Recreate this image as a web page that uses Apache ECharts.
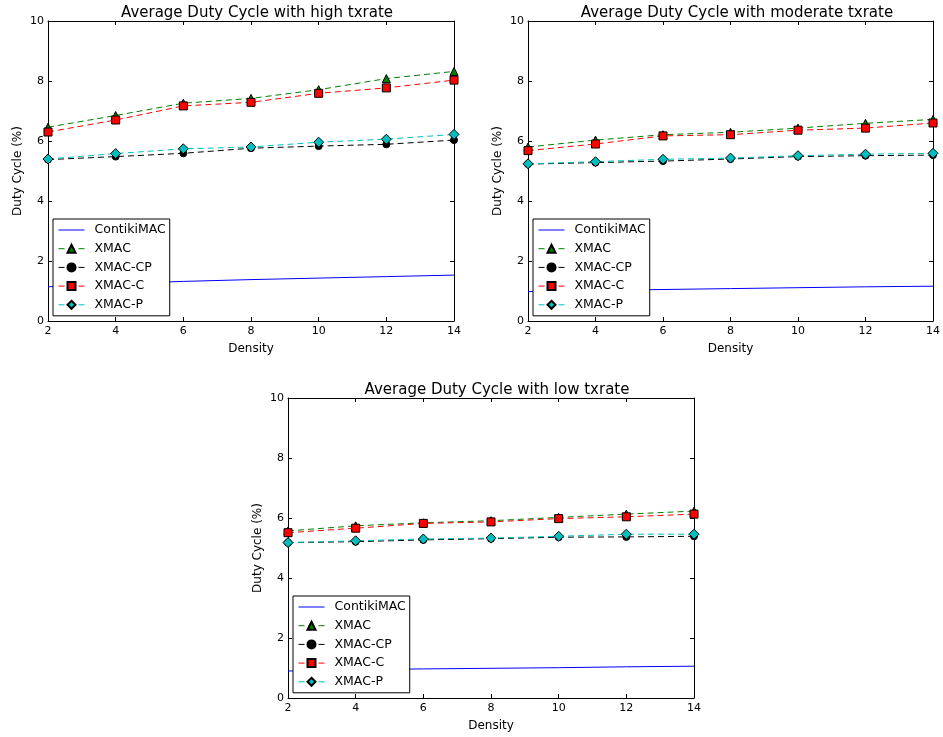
<!DOCTYPE html>
<html>
<head>
<meta charset="utf-8">
<script src="https://cdn.jsdelivr.net/npm/echarts@6/dist/echarts.min.js"></script>
<style>
html,body{margin:0;padding:0;background:#fff;}
#chart{width:943px;height:737px;}
</style>
</head>
<body>
<div id="chart"></div>
<script>
// ---- data ----
var density = [2, 4, 6, 8, 10, 12, 14];
var seriesNames = ['ContikiMAC', 'XMAC', 'XMAC-CP', 'XMAC-C', 'XMAC-P'];
var panelTitles = ['Average Duty Cycle with high txrate', 'Average Duty Cycle with moderate txrate', 'Average Duty Cycle with low txrate'];
var xTicks = [2, 4, 6, 8, 10, 12, 14];
var yTicks = [0, 2, 4, 6, 8, 10];

var highContiki = [1.14, 1.24, 1.32, 1.38, 1.43, 1.48, 1.53];
var highXmac    = [6.46, 6.85, 7.26, 7.42, 7.71, 8.08, 8.32];
var highXmacCP  = [5.38, 5.48, 5.59, 5.76, 5.83, 5.89, 6.03];
var highXmacC   = [6.30, 6.70, 7.17, 7.29, 7.59, 7.77, 8.03];
var highXmacP   = [5.40, 5.58, 5.74, 5.80, 5.96, 6.06, 6.22];

var modContiki = [0.98, 1.02, 1.05, 1.08, 1.11, 1.14, 1.16];
var modXmac    = [5.80, 6.03, 6.21, 6.29, 6.43, 6.59, 6.72];
var modXmacCP  = [5.23, 5.28, 5.33, 5.40, 5.48, 5.51, 5.53];
var modXmacC   = [5.68, 5.90, 6.17, 6.21, 6.36, 6.43, 6.60];
var modXmacP   = [5.24, 5.31, 5.39, 5.43, 5.51, 5.56, 5.59];

var lowContiki = [0.90, 0.94, 0.97, 0.99, 1.01, 1.04, 1.06];
var lowXmac    = [5.57, 5.74, 5.84, 5.91, 6.02, 6.13, 6.23];
var lowXmacCP  = [5.18, 5.21, 5.27, 5.31, 5.36, 5.37, 5.39];
var lowXmacC   = [5.51, 5.66, 5.82, 5.87, 5.98, 6.04, 6.13];
var lowXmacP   = [5.18, 5.24, 5.30, 5.33, 5.39, 5.46, 5.46];

var panels = [
  [highContiki, highXmac, highXmacCP, highXmacC, highXmacP],
  [modContiki, modXmac, modXmacCP, modXmacC, modXmacP],
  [lowContiki, lowXmac, lowXmacCP, lowXmacC, lowXmacP]
];

// ---- layout / style ----
var grids = [
  {left: 48, top: 21, width: 406, height: 300},
  {left: 528, top: 21, width: 406, height: 300},
  {left: 288, top: 398, width: 406, height: 300}
];
var FONT = 'DejaVu Sans';
var styles = [
  {color: '#0000ff', symbol: 'none', dash: 'solid', size: 0},
  {color: '#008000', symbol: 'triangle', dash: [6, 4], size: 8},
  {color: '#000000', symbol: 'circle', dash: [6, 4], size: 7},
  {color: '#ff0000', symbol: 'rect', dash: [6, 4], size: 8},
  {color: '#00bfbf', symbol: 'diamond', dash: [6, 4], size: 10}
];

function pairs(ys) {
  return density.map(function (x, i) { return [x, ys[i]]; });
}

var option = {
  backgroundColor: '#fff',
  animation: false,
  title: [], grid: [], xAxis: [], yAxis: [], legend: [], series: []
};

grids.forEach(function (g, p) {
  var suffix = '\u200b'.repeat(p);
  option.grid.push({left: g.left, top: g.top, width: g.width, height: g.height, containLabel: false});
  option.title.push({
    text: panelTitles[p], left: g.left + g.width / 2 + 1, top: g.top - 20, textAlign: 'center',
    textStyle: {fontFamily: FONT, fontSize: 15, fontWeight: 'normal', color: '#000'}
  });
  var axisLine = {show: true, onZero: false, lineStyle: {color: '#000', width: 1}};
  var tick = {show: true, inside: true, length: 4, lineStyle: {color: '#000'}};
  option.xAxis.push({
    type: 'value', gridIndex: p, position: 'bottom', min: xTicks[0], max: xTicks[xTicks.length - 1], interval: 2,
    name: 'Density', nameLocation: 'middle', nameGap: 22,
    nameTextStyle: {fontFamily: FONT, fontSize: 12, color: '#000'},
    axisLine: axisLine, axisTick: tick, splitLine: {show: false},
    axisLabel: {fontFamily: FONT, fontSize: 11, color: '#000', margin: 5}
  });
  option.xAxis.push({
    type: 'value', gridIndex: p, position: 'top', min: xTicks[0], max: xTicks[xTicks.length - 1], interval: 2,
    axisLine: axisLine, axisTick: tick, splitLine: {show: false}, axisLabel: {show: false}
  });
  option.yAxis.push({
    type: 'value', gridIndex: p, position: 'left', min: yTicks[0], max: yTicks[yTicks.length - 1], interval: 2,
    name: 'Duty Cycle (%)', nameLocation: 'middle', nameGap: 24,
    nameTextStyle: {fontFamily: FONT, fontSize: 12, color: '#000'},
    axisLine: axisLine, axisTick: tick, splitLine: {show: false},
    axisLabel: {fontFamily: FONT, fontSize: 11, color: '#000', margin: 4}
  });
  option.yAxis.push({
    type: 'value', gridIndex: p, position: 'right', min: yTicks[0], max: yTicks[yTicks.length - 1], interval: 2,
    axisLine: axisLine, axisTick: tick, splitLine: {show: false}, axisLabel: {show: false}
  });
  option.legend.push({
    orient: 'vertical', left: g.left + 5, top: g.top + g.height - 102,
    borderColor: '#000', borderWidth: 1, borderRadius: 0, padding: [4, 4, 4, 5],
    itemWidth: 26, itemHeight: 10, itemGap: 4.7,
    backgroundColor: '#fff',
    lineStyle: {width: 1},
    textStyle: {fontFamily: FONT, fontSize: 12.5, color: '#000', lineHeight: 14, padding: [0, 0, 0, 5]},
    data: seriesNames.map(function (n, i) {
      var item = {name: n + suffix};
      if (i === 0) item.itemStyle = {opacity: 0, borderWidth: 0};
      return item;
    })
  });
  seriesNames.forEach(function (n, i) {
    var s = styles[i];
    option.series.push({
      type: 'line', name: n + suffix, xAxisIndex: 2 * p, yAxisIndex: 2 * p,
      data: pairs(panels[p][i]),
      symbol: s.symbol, symbolSize: s.size, showSymbol: s.symbol !== 'none',
      lineStyle: {color: s.color, width: 1, type: s.dash},
      itemStyle: {color: s.color, borderColor: '#000', borderWidth: 1},
      emphasis: {disabled: true}, silent: true, z: 2 + i
    });
  });
});

var chart = echarts.init(document.getElementById('chart'), null, {renderer: 'canvas'});
chart.setOption(option);
</script>
</body>
</html>
